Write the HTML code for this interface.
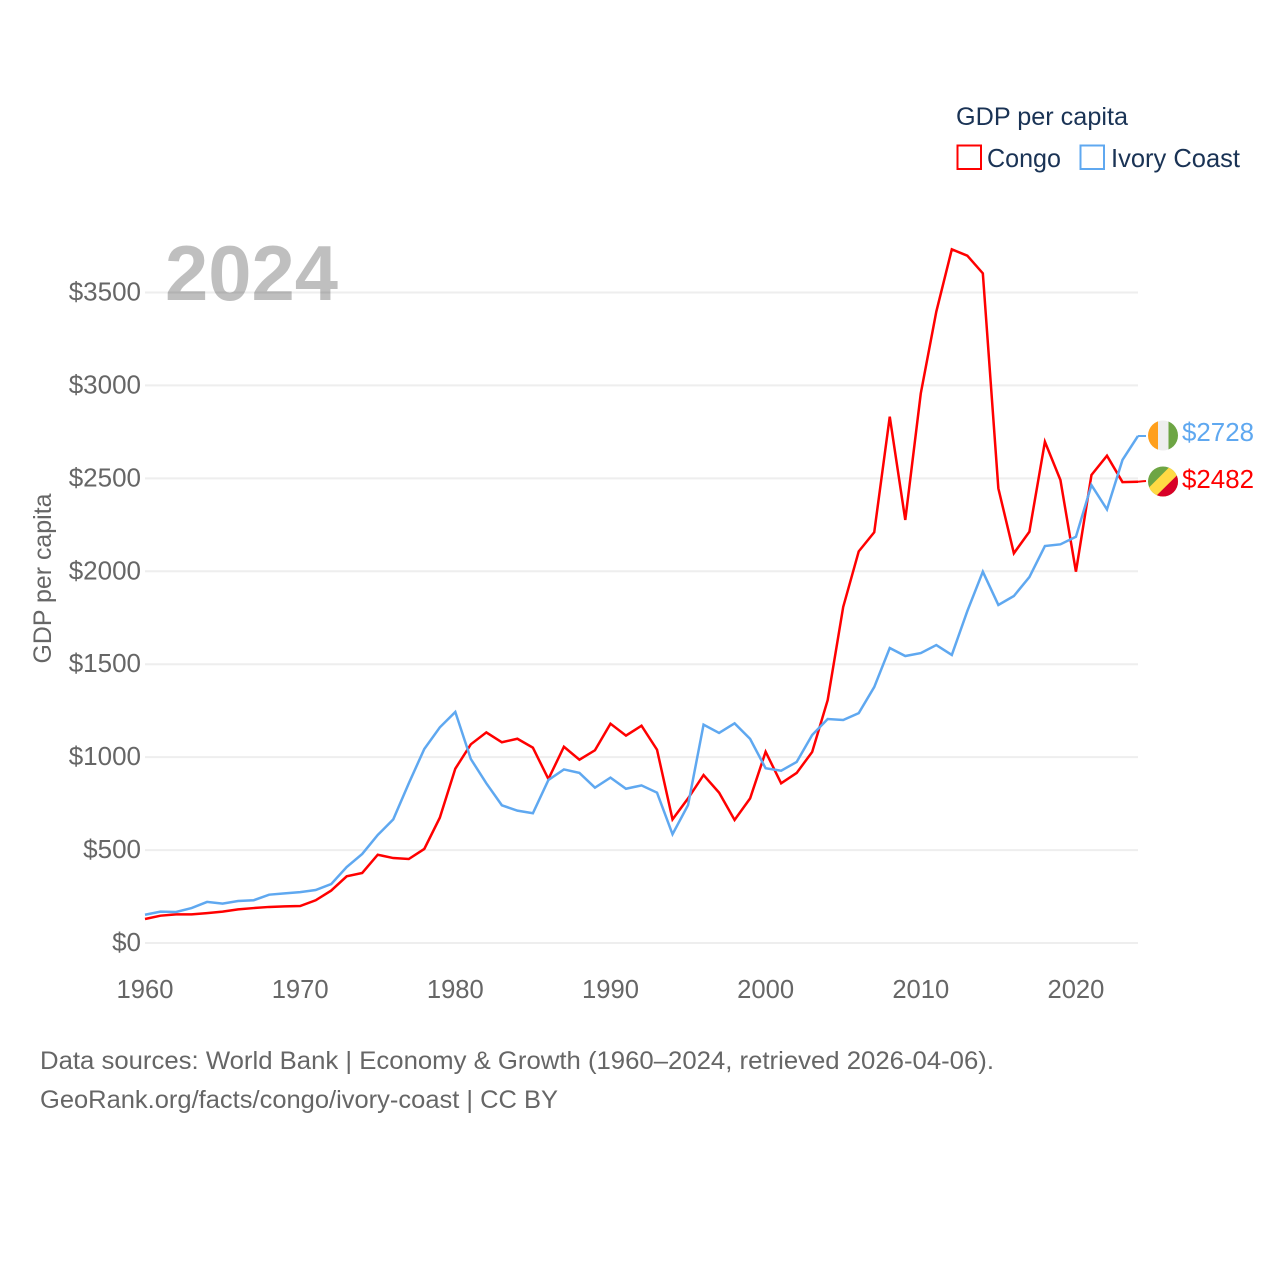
<!DOCTYPE html>
<html lang="en">
<head>
<meta charset="utf-8">
<title>GDP per capita: Congo and Ivory Coast</title>
<style>
  html, body { margin: 0; padding: 0; background: #fff; }
  svg { display: block; }
  text { font-family: "Liberation Sans", "DejaVu Sans", sans-serif; }
</style>
</head>
<body>
<svg id="chart" xmlns="http://www.w3.org/2000/svg" width="1280" height="1280" viewBox="0 0 1280 1280">
  <defs>
    <clipPath id="flag-clip-ci"><circle cx="1163" cy="435.5" r="15"></circle></clipPath>
    <clipPath id="flag-clip-cg"><circle cx="1163" cy="481.5" r="15"></circle></clipPath>
  </defs>
  <rect x="0" y="0" width="1280" height="1280" fill="#ffffff"></rect>

  <g id="grid"></g>
  <g id="y-ticks"></g>
  <g id="x-ticks"></g>

  <text x="165" y="300" font-size="78" font-weight="700" fill="#000000" fill-opacity="0.25" textLength="173" lengthAdjust="spacingAndGlyphs">2024</text>

  <text transform="translate(51 578.5) rotate(-90)" text-anchor="middle" font-size="25" fill="#666666" textLength="170" lengthAdjust="spacingAndGlyphs">GDP per capita</text>

  <g id="series"></g>

  <g clip-path="url(#flag-clip-ci)">
    <rect x="1148" y="420" width="10" height="31" fill="#ff9f1c"></rect>
    <rect x="1158" y="420" width="10.5" height="31" fill="#eeeeee"></rect>
    <rect x="1168.5" y="420" width="10" height="31" fill="#6da544"></rect>
  </g>
  <g clip-path="url(#flag-clip-cg)">
    <rect x="1147" y="465" width="32" height="33" fill="#6da544"></rect>
    <polygon points="1185,451.5 1185,477.5 1149,513.5 1125,511.5" fill="#ffda44"></polygon>
    <polygon points="1185,467.5 1185,500 1152,500" fill="#d80027"></polygon>
  </g>

  <text x="1182" y="441" font-size="26" fill="#5fa8f0" textLength="72" lengthAdjust="spacingAndGlyphs">$2728</text>
  <text x="1182" y="488" font-size="26" fill="#ff0000" textLength="72" lengthAdjust="spacingAndGlyphs">$2482</text>

  <g>
    <text x="956" y="125" font-size="25" fill="#1a3355" textLength="172" lengthAdjust="spacingAndGlyphs">GDP per capita</text>
    <rect x="957.5" y="145.5" width="23.5" height="23.5" fill="none" stroke="#ff0000" stroke-width="2"></rect>
    <text x="987" y="167" font-size="26" fill="#1a3355" textLength="74" lengthAdjust="spacingAndGlyphs">Congo</text>
    <rect x="1080.5" y="145.5" width="23.5" height="23.5" fill="none" stroke="#5fa8f0" stroke-width="2"></rect>
    <text x="1111" y="167" font-size="26" fill="#1a3355" textLength="129" lengthAdjust="spacingAndGlyphs">Ivory Coast</text>
  </g>

  <text x="40" y="1069" font-size="25" fill="#666666" textLength="954" lengthAdjust="spacingAndGlyphs">Data sources: World Bank | Economy &amp; Growth (1960–2024, retrieved 2026-04-06).</text>
  <text x="40" y="1108" font-size="25" fill="#666666" textLength="518" lengthAdjust="spacingAndGlyphs">GeoRank.org/facts/congo/ivory-coast | CC BY</text>
</svg>

<script>
const startYear = 1960;
const endYear = 2024;
const xTickYears = [1960, 1970, 1980, 1990, 2000, 2010, 2020];
const yTickValues = [0, 500, 1000, 1500, 2000, 2500, 3000, 3500];
const congoValues = [
  129, 147, 154, 154, 161, 169, 181, 188, 194, 197,
  199, 230, 282, 359, 377, 475, 457, 452, 506, 674,
  938, 1069, 1133, 1080, 1099, 1051, 882, 1056, 986, 1037,
  1180, 1116, 1169, 1040, 665, 778, 904, 809, 662, 778,
  1029, 859, 915, 1028, 1307, 1808, 2107, 2210, 2832, 2276,
  2957, 3397, 3732, 3698, 3603, 2446, 2097, 2213, 2697, 2491,
  1998, 2518, 2622, 2480, 2482
];
const ivoryCoastValues = [
  152, 169, 167, 188, 221, 212, 226, 230, 260, 267,
  274, 285, 317, 409, 479, 581, 665, 859, 1044, 1160,
  1243, 990, 859, 741, 712, 698, 877, 934, 915, 836,
  890, 830, 848, 809, 585, 742, 1175, 1130, 1182, 1098,
  940, 927, 974, 1119, 1205, 1200, 1237, 1377, 1587, 1544,
  1560, 1603, 1550, 1786, 1998, 1819, 1867, 1969, 2136, 2145,
  2186, 2464, 2333, 2599, 2728
];

const SVG_NS = 'http://www.w3.org/2000/svg';
const plotLeft = 145;
const plotRight = 1138;
const plotZeroY = 943;
const pxPerDollar = 650.5 / 3500;

function xScale(year) {
  return plotLeft + (year - startYear) * (plotRight - plotLeft) / (endYear - startYear);
}
function yScale(value) {
  return plotZeroY - value * pxPerDollar;
}

const gridGroup = document.getElementById('grid');
const yTickGroup = document.getElementById('y-ticks');
const xTickGroup = document.getElementById('x-ticks');
const seriesGroup = document.getElementById('series');

yTickValues.forEach(function (value) {
  const line = document.createElementNS(SVG_NS, 'line');
  line.setAttribute('x1', xScale(startYear));
  line.setAttribute('x2', xScale(endYear));
  line.setAttribute('y1', yScale(value));
  line.setAttribute('y2', yScale(value));
  line.setAttribute('stroke', '#eeeeee');
  line.setAttribute('stroke-width', '2');
  
  
  gridGroup.appendChild(line);

  const label = document.createElementNS(SVG_NS, 'text');
  label.setAttribute('x', 141);
  label.setAttribute('y', yScale(value) + 8);
  label.setAttribute('text-anchor', 'end');
  label.setAttribute('font-size', '26');
  label.setAttribute('fill', '#666666');
  
  
  label.textContent = '$' + value;
  yTickGroup.appendChild(label);
});

xTickYears.forEach(function (year) {
  const label = document.createElementNS(SVG_NS, 'text');
  label.setAttribute('x', xScale(year));
  label.setAttribute('y', 998);
  label.setAttribute('text-anchor', 'middle');
  label.setAttribute('font-size', '25.6');
  label.setAttribute('fill', '#666666');
  
  
  label.textContent = String(year);
  xTickGroup.appendChild(label);
});

function drawSeries(values, color, labelY, seriesName) {
  const pts = values.map(function (value, i) {
    return xScale(startYear + i).toFixed(2) + ',' + yScale(value).toFixed(2);
  });
  const path = document.createElementNS(SVG_NS, 'polyline');
  path.setAttribute('points', pts.join(' '));
  path.setAttribute('fill', 'none');
  path.setAttribute('stroke', color);
  path.setAttribute('stroke-width', '2.5');
  path.setAttribute('stroke-linejoin', 'miter');
  
  
  seriesGroup.appendChild(path);

  const connector = document.createElementNS(SVG_NS, 'polyline');
  const lastValue = values[values.length - 1];
  connector.setAttribute('points', xScale(endYear) + ',' + yScale(lastValue) + ' ' + (xScale(endYear) + 8) + ',' + labelY);
  connector.setAttribute('fill', 'none');
  connector.setAttribute('stroke', color);
  connector.setAttribute('stroke-width', '2');
  
  
  seriesGroup.appendChild(connector);
}

drawSeries(congoValues, '#ff0000', 481, 'congo-line');
drawSeries(ivoryCoastValues, '#5fa8f0', 436, 'ivory-coast-line');
</script>
</body>
</html>
